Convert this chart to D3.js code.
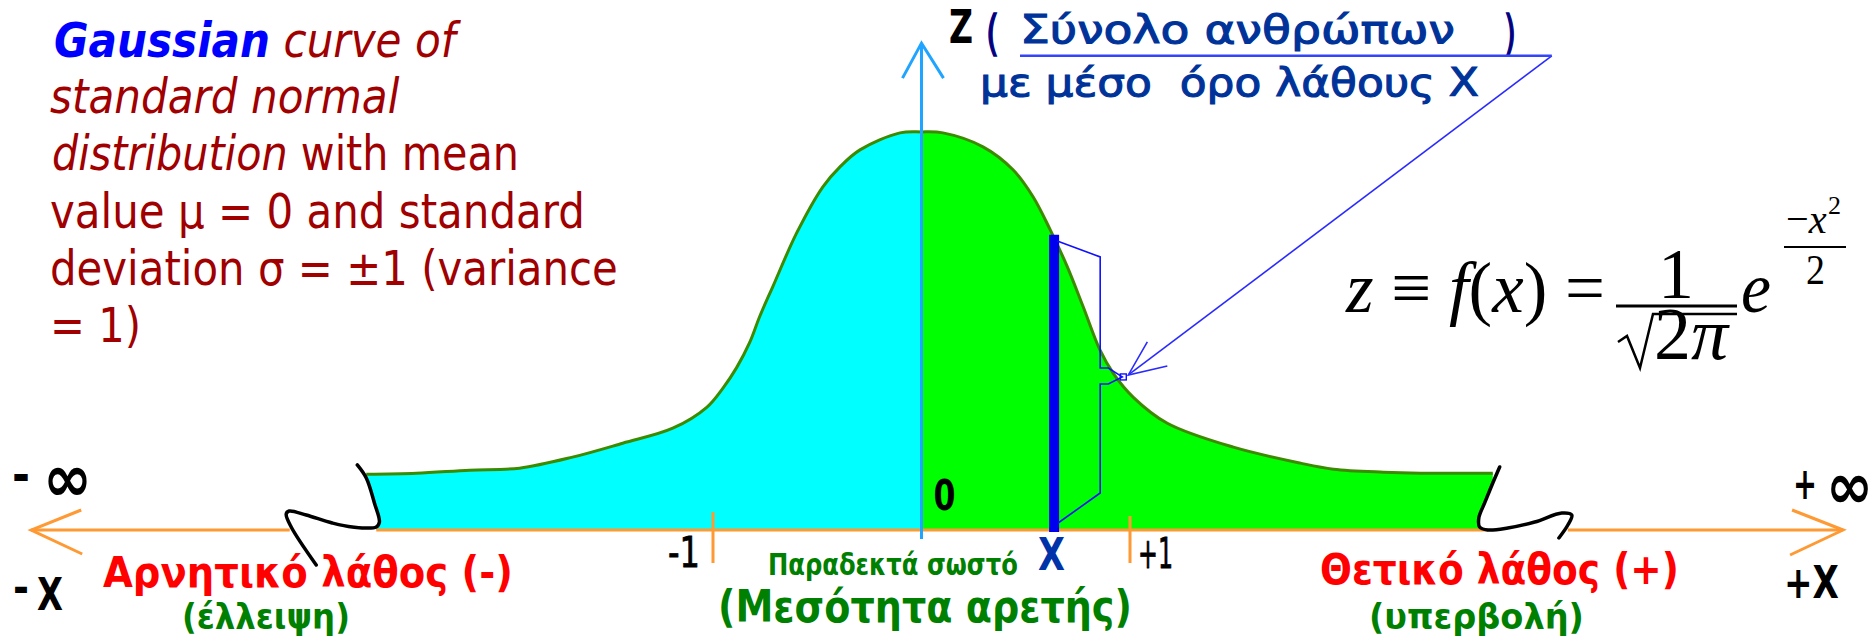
<!DOCTYPE html>
<html>
<head>
<meta charset="utf-8">
<script src="https://cdn.jsdelivr.net/npm/d3@7"></script>
<style>
  body { margin: 0; background: #fff; }
  text { white-space: pre; }
</style>
</head>
<body>
<script>
// ---- data (x in standard deviations, z = height of the drawn curve) ----
var curveX = [-2.663, -2.423, -2.168, -1.928, -1.674, -1.433, -1.193, -1.030, -0.953, -0.886,
              -0.824, -0.776, -0.713, -0.598, -0.473, -0.391, -0.295, -0.103, 0, 0.103,
              0.295, 0.439, 0.535, 0.617, 0.699, 0.775, 0.857, 0.920, 1.016, 1.179,
              1.496, 1.818, 1.976, 2.216, 2.394, 2.740];
var curveZ = [0.056, 0.057, 0.060, 0.062, 0.073, 0.087, 0.102, 0.123, 0.142, 0.163,
              0.188, 0.214, 0.244, 0.298, 0.344, 0.364, 0.381, 0.398, 0.399, 0.398,
              0.384, 0.361, 0.334, 0.301, 0.264, 0.224, 0.180, 0.157, 0.133, 0.107,
              0.083, 0.067, 0.061, 0.058, 0.057, 0.057];

var tickValues = [-1, 1];
var tickLabels = ["-1", "+1"];

// the marked value X and its height
var xMark = 0.636;
var zMark = 0.296;

// hand drawn "break" marks at both tails
var breakLeftX  = [-2.706, -2.663, -2.624, -2.600, -2.615, -2.730, -2.826, -2.951, -3.033, -3.047, -3.023, -2.903];
var breakLeftZ  = [0.0652, 0.0521, 0.0271, 0.0080, 0.0030, 0.0030, 0.0070, 0.0150, 0.0190, 0.0160, 0.0030, -0.0351];
var breakRightX = [2.773, 2.740, 2.701, 2.673, 2.677, 2.716, 2.812, 2.941, 3.071, 3.119, 3.100, 3.057];
var breakRightZ = [0.0632, 0.0471, 0.0271, 0.0120, 0.0030, 0.0000, 0.0020, 0.0080, 0.0170, 0.0150, 0.0050, -0.0080];

// visible pieces of the x axis
var axisFrom = [-4.27, -2.615, 3.10];
var axisTo   = [-3.03, 2.716, 4.42];

// brace next to the X bar and the pointer from the label
var braceX = [0.651, 0.857, 0.857, 0.896, 0.963, 0.896, 0.857, 0.857, 0.655];
var braceZ = [0.2897, 0.2737, 0.1624, 0.1624, 0.1534, 0.1464, 0.1464, 0.0371, 0.0070];
var pointerX = [3.023, 0.992];
var pointerZ = [0.4752, 0.1554];

// ---- setup ----
var width = 1874;
var height = 639;
var sans = "'DejaVu Sans', Verdana, sans-serif";
var serif = "'Liberation Serif', 'Times New Roman', serif";

var svg = d3.select("body").append("svg")
    .attr("width", width)
    .attr("height", height);

var x = d3.scaleLinear().domain([-1, 1]).range([713, 1130]);
var z = d3.scaleLinear().domain([0, 0.3989]).range([530, 132]);

var curvePts = curveX.map(function(d, i) { return [d, curveZ[i]]; });
var breakLeft = breakLeftX.map(function(d, i) { return [d, breakLeftZ[i]]; });
var breakRight = breakRightX.map(function(d, i) { return [d, breakRightZ[i]]; });

var smooth = d3.line()
    .x(function(d) { return x(d[0]); })
    .y(function(d) { return z(d[1]); })
    .curve(d3.curveCatmullRom);

// clip paths for the two colours
var defs = svg.append("defs");
defs.append("clipPath").attr("id", "left")
  .append("rect").attr("x", 0).attr("y", 0).attr("width", x(0)).attr("height", height);
defs.append("clipPath").attr("id", "right")
  .append("rect").attr("x", x(0)).attr("y", 0).attr("width", width - x(0)).attr("height", height);

// closed area under the curve, bounded by the break marks
var rest = breakRight.slice(1, 6)
    .concat([[breakLeft[4][0], 0]])
    .concat(breakLeft.slice(1, 5).reverse());
var areaD = smooth(curvePts) + rest.map(function(p) {
  return "L" + x(p[0]) + "," + z(p[1]);
}).join("") + "Z";

svg.append("path").attr("d", areaD).attr("fill", "#00ffff").attr("clip-path", "url(#left)");
svg.append("path").attr("d", areaD).attr("fill", "#00ff00").attr("clip-path", "url(#right)");

// curve outline
svg.append("path")
    .attr("d", smooth(curvePts))
    .attr("fill", "none")
    .attr("stroke", "#3c8a00")
    .attr("stroke-width", 3);

// x axis (orange)
var orange = "#ff9933";
svg.selectAll(".axispiece")
  .data(axisFrom)
  .enter().append("line")
    .attr("x1", function(d) { return x(d); })
    .attr("x2", function(d, i) { return x(axisTo[i]); })
    .attr("y1", z(0)).attr("y2", z(0))
    .attr("stroke", orange).attr("stroke-width", 3);

// arrow heads of the x axis
var xl = x(axisFrom[0]), xr = x(axisTo[2]), y0 = z(0);
svg.append("path")
    .attr("d", "M" + (xl + 50) + "," + (y0 - 20) + "L" + xl + "," + y0 + "L" + (xl + 51) + "," + (y0 + 24))
    .attr("fill", "none").attr("stroke", orange).attr("stroke-width", 3);
svg.append("path")
    .attr("d", "M" + (xr - 51) + "," + (y0 - 20) + "L" + xr + "," + y0 + "L" + (xr - 53) + "," + (y0 + 25))
    .attr("fill", "none").attr("stroke", orange).attr("stroke-width", 3);

// ticks at -1 and +1
svg.selectAll(".tick")
  .data(tickValues)
  .enter().append("line")
    .attr("x1", function(d) { return x(d); })
    .attr("x2", function(d) { return x(d); })
    .attr("y1", function(d) { return z(0) - (d < 0 ? 18 : 14); })
    .attr("y2", z(0) + 33)
    .attr("stroke", orange).attr("stroke-width", 3);

// z axis (light blue)
var blueAxis = "#1fa5ff";
svg.append("line")
    .attr("x1", x(0)).attr("x2", x(0))
    .attr("y1", z(-0.009)).attr("y2", z(0.488))
    .attr("stroke", blueAxis).attr("stroke-width", 3);
svg.append("path")
    .attr("d", "M" + (x(0) - 19) + "," + (z(0.488) + 35) + "L" + x(0) + "," + z(0.488) + "L" + (x(0) + 22) + "," + (z(0.488) + 35))
    .attr("fill", "none").attr("stroke", blueAxis).attr("stroke-width", 3);

// the X bar
svg.append("line")
    .attr("x1", x(xMark)).attr("x2", x(xMark))
    .attr("y1", z(zMark)).attr("y2", z(0) + 2)
    .attr("stroke", "#0000ee").attr("stroke-width", 10);

// brace and pointer
var thin = d3.line()
    .x(function(d) { return x(d[0]); })
    .y(function(d) { return z(d[1]); });
svg.append("path")
    .attr("d", thin(braceX.map(function(d, i) { return [d, braceZ[i]]; })))
    .attr("fill", "none").attr("stroke", "#1010ff").attr("stroke-width", 1.6);
svg.append("rect")
    .attr("x", x(braceX[4]) - 2).attr("y", z(braceZ[4]) - 3)
    .attr("width", 6).attr("height", 6)
    .attr("fill", "none").attr("stroke", "#1010ff").attr("stroke-width", 1.4);

var px0 = x(pointerX[0]), pz0 = z(pointerZ[0]);
var px1 = x(pointerX[1]), pz1 = z(pointerZ[1]);
svg.append("line")
    .attr("x1", px0).attr("y1", pz0).attr("x2", px1).attr("y2", pz1)
    .attr("stroke", "#2a2aff").attr("stroke-width", 1.6);
svg.append("path")
    .attr("d", "M" + (px1 + 19) + "," + (pz1 - 33) + "L" + px1 + "," + pz1 + "L" + (px1 + 39) + "," + (pz1 - 9))
    .attr("fill", "none").attr("stroke", "#2a2aff").attr("stroke-width", 1.6);

// break marks
[breakLeft, breakRight].forEach(function(pts) {
  svg.append("path")
      .attr("d", smooth(pts))
      .attr("fill", "none")
      .attr("stroke", "#000")
      .attr("stroke-width", 3.5)
      .attr("stroke-linecap", "round")
      .attr("stroke-linejoin", "round");
});

// ---- texts ----
// squeeze a text horizontally so that it runs from x0 to x1
function fit(t, x0, x1) {
  var b = t.node().getBBox();
  var k = (x1 - x0) / b.width;
  t.attr("transform", "translate(" + x0 + ",0) scale(" + k + ",1) translate(" + (-b.x) + ",0)");
  return t;
}

function label(x0, x1, y, size, parts, family) {
  var t = svg.append("text")
      .attr("y", y)
      .attr("font-family", family || sans)
      .attr("font-size", size);
  parts.forEach(function(p) {
    var s = t.append("tspan")
        .attr("font-weight", p.w || "normal")
        .attr("font-style", p.s || "normal")
        .attr("fill", p.c || "#000")
        .text(p.t);
    if (p.k) s.attr("stroke", p.c || "#000").attr("stroke-width", p.k);
  });
  return fit(t, x0, x1);
}

// title block
var dred = "#a00000";
label(54, 461, 57, 48, [{t: "Gaussian", w: "bold", s: "italic", c: "#0000ff"}, {t: " curve of", s: "italic", c: dred}]);
label(50, 400, 113, 48, [{t: "standard normal", s: "italic", c: dred}]);
label(52, 519, 170, 48, [{t: "distribution", s: "italic", c: dred}, {t: " with mean", c: dred}]);
label(50, 585, 228, 48, [{t: "value μ = 0 and standard", c: dred}]);
label(50, 618, 285, 48, [{t: "deviation σ = ±1 (variance", c: dred}]);
label(50, 141, 342, 48, [{t: "= 1)", c: dred}]);

// z axis label
var navy = "#003399";
label(949, 973, 43, 46, [{t: "Z", w: "bold"}]);
label(986, 999, 50, 48, [{t: "(", c: "#000080", k: 1.6}]);
label(1020, 1455, 43, 39, [{t: "Σύνολο ανθρώπων", c: navy, k: 1.1}]);
label(1504, 1516, 50, 48, [{t: ")", c: "#000080", k: 1.6}]);
svg.append("line")
    .attr("x1", 1020).attr("x2", px0)
    .attr("y1", pz0).attr("y2", pz0)
    .attr("stroke", "#3344ff").attr("stroke-width", 2.5);
label(980, 1479, 96, 39, [{t: "με μέσο  όρο λάθους Χ", c: navy, k: 1.1}]);

// axis labels
label(x(0) + 12, x(0) + 34, 510, 42, [{t: "0", w: "bold"}]);
label(x(-1) - 45, x(-1) - 13, 567, 42, [{t: tickLabels[0], k: 0.8}]);
label(x(1) + 8, x(1) + 43, 568, 42, [{t: tickLabels[1], k: 0.8}]);
label(x(xMark) - 16, x(xMark) + 11, 570, 44, [{t: "X", w: "bold", c: "#0033aa"}]);
label(12, 30, 492, 50, [{t: "-", w: "bold"}]);
label(43, 92, 501, 66, [{t: "∞", w: "bold"}]);
label(1793, 1817, 499, 44, [{t: "+", w: "bold"}]);
label(1826, 1873, 508, 64, [{t: "∞", w: "bold"}]);
label(13, 29, 603, 44, [{t: "-", w: "bold"}]);
label(37, 63, 610, 44, [{t: "X", w: "bold"}]);
label(1784, 1839, 598, 44, [{t: "+X", w: "bold"}]);

// error labels
var green = "#008000";
label(103, 513, 587, 42, [{t: "Αρνητικό λάθος (-)", w: "bold", c: "#ff0000"}]);
label(182, 350, 629, 35, [{t: "(έλλειψη)", w: "bold", c: green}]);
label(768, 1018, 575, 30, [{t: "Παραδεκτά σωστό", w: "bold", c: green}]);
label(718, 1132, 622, 44, [{t: "(Μεσότητα αρετής)", w: "bold", c: green}]);
label(1320, 1679, 584, 42, [{t: "Θετικό λάθος (+)", w: "bold", c: "#ff0000"}]);
label(1369, 1584, 629, 35, [{t: "(υπερβολή)", w: "bold", c: green}]);

// formula
label(1345, 1605, 312, 72, [
  {t: "z", s: "italic"}, {t: " ≡ "}, {t: "f", s: "italic"}, {t: "("},
  {t: "x", s: "italic"}, {t: ")"}, {t: " ="}
], serif);

// fraction 1 / sqrt(2 pi) as one text
var frac = svg.append("text")
    .attr("font-family", serif)
    .attr("font-size", 72);
frac.append("tspan").attr("x", 1676).attr("y", 298).attr("text-anchor", "middle").text("1");
frac.append("tspan").attr("x", 1654).attr("y", 359).attr("font-size", 74).text("2");
frac.append("tspan").attr("font-style", "italic").attr("font-size", 74).text("π");

svg.append("line")
    .attr("x1", 1616).attr("x2", 1737).attr("y1", 306).attr("y2", 306)
    .attr("stroke", "#000").attr("stroke-width", 3);
svg.append("path")
    .attr("d", "M1618,342 L1627,336 L1640,368 L1653,314 L1737,314")
    .attr("fill", "none").attr("stroke", "#000").attr("stroke-width", 2.5)
    .attr("stroke-linejoin", "miter");
label(1741, 1771, 312, 72, [{t: "e", s: "italic"}], serif);
label(1786, 1827, 233, 42, [{t: "−"}, {t: "x", s: "italic"}], serif);
label(1828, 1841, 214, 26, [{t: "2"}], serif);
svg.append("line")
    .attr("x1", 1784).attr("x2", 1846).attr("y1", 247).attr("y2", 247)
    .attr("stroke", "#000").attr("stroke-width", 2);
label(1806, 1825, 284, 42, [{t: "2"}], serif);
</script>
</body>
</html>
